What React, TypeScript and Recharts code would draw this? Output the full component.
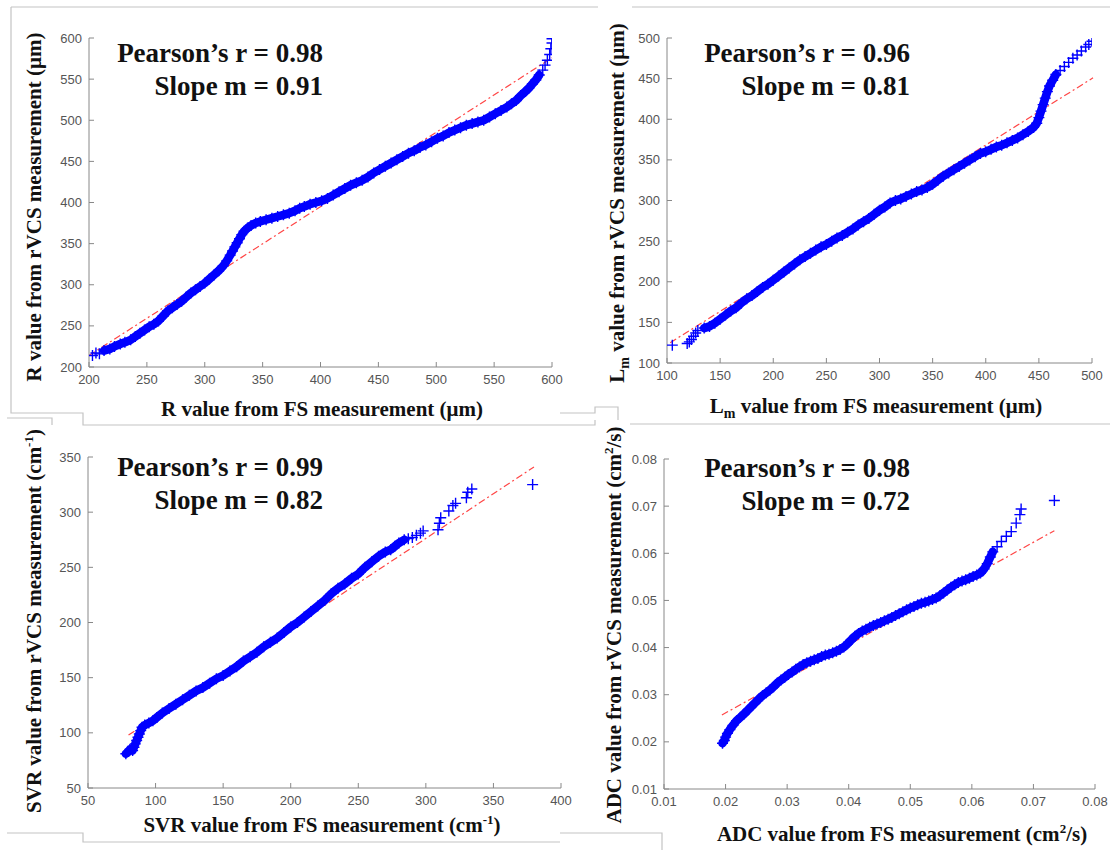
import React from 'react';
import { ScatterChart, Scatter, XAxis, YAxis, ReferenceLine } from 'recharts';

// ---------- Panel 1: R ----------
const rTicks = [200, 250, 300, 350, 400, 450, 500, 550, 600];
const rMarks: [number, number][] = [
  [203, 214], [206, 217], [209, 216],
  [592, 561], [594, 567], [596, 573], [598, 580], [599, 587], [600, 594], [600, 599],
];
const rBand: [number, number][] = [
  [213, 220], [218, 222], [222, 225], [227, 228], [231, 230],
  [236, 233], [240, 237], [244, 241], [248, 245], [252, 249], [256, 252], [260, 256], [264, 262],
  [268, 268], [272, 272], [276, 276], [280, 280], [284, 285], [288, 290], [292, 294], [296, 298],
  [300, 302], [304, 307], [308, 312], [312, 317], [316, 323], [319, 329], [322, 336], [324, 341],
  [326, 346], [328, 351], [330, 356], [332, 361], [334, 365], [337, 369], [340, 372], [344, 375],
  [348, 377], [353, 379], [358, 381], [363, 383], [368, 385], [373, 387], [378, 390], [382, 393],
  [386, 395], [391, 398], [396, 400], [401, 402], [406, 405], [411, 409], [416, 413], [421, 417],
  [426, 421], [431, 424], [436, 427], [441, 431], [446, 436], [451, 440], [456, 444], [461, 448],
  [466, 452], [471, 456], [476, 460], [481, 463], [486, 467], [491, 470], [496, 474], [501, 478],
  [506, 481], [511, 485], [516, 488], [521, 491], [526, 494], [531, 496], [536, 498], [541, 500],
  [546, 504], [551, 508], [556, 512], [561, 516], [565, 520], [569, 524], [573, 530], [577, 535],
  [580, 539], [583, 544], [586, 549], [589, 555],
];
const rFit: [number, number][] = [[200, 214], [600, 576]];

// ---------- Panel 2: Lm ----------
const lmTicks = [100, 150, 200, 250, 300, 350, 400, 450, 500];
const lmMarks: [number, number][] = [
  [105, 122], [119, 124], [121, 126], [123, 129], [125, 133], [127, 137], [129, 140],
  [470, 460], [474, 465], [478, 470], [482, 475], [486, 479], [490, 484], [494, 489], [497, 492],
  [500, 496],
];
const lmBand: [number, number][] = [
  [135, 143], [140, 145], [145, 149], [150, 154], [155, 159], [160, 164], [165, 168], [170, 174],
  [175, 179], [180, 183], [185, 188], [190, 193], [195, 197], [200, 202], [205, 207], [210, 212],
  [215, 217], [220, 222], [225, 227], [230, 231], [235, 235], [240, 239], [245, 243], [250, 246],
  [255, 250], [260, 254], [265, 257], [270, 261], [275, 265], [280, 270], [285, 274], [290, 278],
  [295, 283], [300, 288], [305, 292], [310, 297], [315, 300], [320, 302], [325, 305], [330, 308],
  [335, 311], [340, 313], [345, 316], [350, 320], [355, 325], [360, 330], [365, 334], [370, 338],
  [375, 342], [380, 346], [385, 350], [390, 354], [395, 358], [400, 360], [405, 363], [410, 366],
  [415, 368], [420, 371], [425, 374], [430, 377], [435, 381], [440, 385], [445, 390], [448, 395],
  [450, 402], [452, 410], [454, 418], [456, 426], [458, 434], [460, 441], [463, 448], [466, 455],
];
const lmFit: [number, number][] = [[103, 125], [501, 451]];

// ---------- Panel 3: SVR ----------
const svrXTicks = [50, 100, 150, 200, 250, 300, 350, 400];
const svrYTicks = [50, 100, 150, 200, 250, 300, 350];
const svrBand: [number, number][] = [
  [78, 81], [80, 83], [81, 85], [83, 84], [84, 87], [85, 90], [86, 93], [87, 96], [88, 99],
  [89, 102], [90, 105], [92, 107], [95, 109], [98, 111], [101, 114], [105, 118], [110, 122],
  [115, 126], [120, 130], [125, 134], [130, 138], [135, 141], [140, 145], [145, 149], [150, 152],
  [155, 156], [160, 160], [165, 165], [170, 169], [175, 173], [180, 178], [185, 182], [190, 186],
  [195, 191], [200, 196], [205, 200], [210, 205], [215, 210], [220, 215], [225, 220], [230, 226],
  [235, 231], [240, 235], [245, 240], [250, 244], [255, 250], [260, 255], [265, 260], [270, 264],
  [274, 266], [277, 269], [280, 272], [284, 275],
];
const svrMarks: [number, number][] = [
  [287, 276], [290, 277], [293, 279], [296, 281], [298, 283],
  [309, 284], [310, 290], [311, 295], [317, 301], [320, 306], [322, 308], [330, 313],
  [331, 318], [334, 321], [379, 325],
];
const svrFit: [number, number][] = [[80, 98], [380, 341]];

// ---------- Panel 4: ADC ----------
const adcTicks = [0.01, 0.02, 0.03, 0.04, 0.05, 0.06, 0.07, 0.08];
const adcBand: [number, number][] = [
  [0.0195, 0.0197], [0.0198, 0.0203], [0.02, 0.021], [0.0203, 0.0218], [0.0207, 0.0226],
  [0.0212, 0.0235], [0.0218, 0.0245], [0.0224, 0.0252], [0.023, 0.0259], [0.0236, 0.0267],
  [0.0242, 0.0275], [0.0248, 0.0283], [0.0254, 0.0291], [0.026, 0.0298], [0.0266, 0.0304],
  [0.0272, 0.031], [0.0278, 0.0317], [0.0284, 0.0325], [0.029, 0.0331], [0.0296, 0.0337],
  [0.0302, 0.0343], [0.0308, 0.0348], [0.0314, 0.0354], [0.032, 0.0359], [0.0326, 0.0364],
  [0.0332, 0.0368], [0.0338, 0.0371], [0.0344, 0.0374], [0.035, 0.0377], [0.0356, 0.0381],
  [0.0362, 0.0384], [0.0368, 0.0386], [0.0374, 0.0389], [0.038, 0.0392], [0.0386, 0.0396],
  [0.0392, 0.0401], [0.0398, 0.0408], [0.0404, 0.0416], [0.041, 0.0424], [0.0416, 0.043],
  [0.0422, 0.0435], [0.0428, 0.0439], [0.0434, 0.0443], [0.044, 0.0447], [0.0446, 0.045],
  [0.0452, 0.0453], [0.0458, 0.0457], [0.0464, 0.046], [0.047, 0.0464], [0.0476, 0.0468],
  [0.0482, 0.0472], [0.0488, 0.0476], [0.0494, 0.048], [0.05, 0.0484], [0.0506, 0.0487],
  [0.0512, 0.0491], [0.0518, 0.0494], [0.0524, 0.0496], [0.053, 0.0499], [0.0536, 0.0502],
  [0.0542, 0.0505], [0.0548, 0.051], [0.0554, 0.0516], [0.056, 0.0522], [0.0566, 0.0528],
  [0.0572, 0.0533], [0.0578, 0.0538], [0.0584, 0.0541], [0.059, 0.0544], [0.0596, 0.0547],
  [0.0602, 0.0551], [0.0608, 0.0554], [0.0614, 0.0558], [0.062, 0.0567], [0.0625, 0.0578],
  [0.063, 0.0592], [0.0634, 0.0603],
];
const adcMarks: [number, number][] = [
  [0.0641, 0.0614], [0.0648, 0.0625], [0.0656, 0.0636], [0.0664, 0.0646],
  [0.0672, 0.0664], [0.0678, 0.0682], [0.068, 0.0694], [0.0734, 0.0712],
];
const adcFit: [number, number][] = [[0.0194, 0.0257], [0.0734, 0.0648]];

const SERIF = "'Liberation Serif', 'Times New Roman', serif";
const SANS = "'Liberation Sans', Arial, sans-serif";
const BLUE = '#0000ff';

const PlusShape = (props: any) => {
  const { cx, cy } = props;
  if (cx == null || cy == null || isNaN(cx) || isNaN(cy)) return null;
  const s = 5.5;
  return (
    <path
      d={`M${cx - s},${cy}H${cx + s}M${cx},${cy - s}V${cy + s}`}
      stroke={BLUE}
      strokeWidth={1.4}
      fill="none"
    />
  );
};

type PanelProps = {
  plotLeft: number;
  plotTop: number;
  plotW: number;
  plotH: number;
  xDomain: [number, number];
  yDomain: [number, number];
  xTicks: number[];
  yTicks: number[];
  band: [number, number][];
  marks: [number, number][];
  fit: [number, number][];
  fmt?: (v: number) => string;
};

function Panel(p: PanelProps) {
  const ML = 70;
  const MT = 10;
  const MR = 24;
  const XH = 40;
  const width = ML + p.plotW + MR;
  const height = MT + p.plotH + XH;
  const bandData = p.band.map(([x, y]) => ({ x, y }));
  const markData = p.marks.map(([x, y]) => ({ x, y }));
  const tickStyle = { fill: '#555', fontSize: 13, fontFamily: SANS };
  return (
    <div style={{ position: 'absolute', left: p.plotLeft - ML, top: p.plotTop - MT, width, height }}>
      <ScatterChart width={width} height={height} margin={{ top: MT, right: MR, bottom: 0, left: 0 }}>
        <XAxis
          type="number"
          dataKey="x"
          domain={p.xDomain}
          ticks={p.xTicks}
          interval={0}
          allowDataOverflow
          height={XH}
          tickSize={-5}
          tickMargin={13}
          stroke="#888"
          tick={tickStyle}
          tickFormatter={p.fmt}
        />
        <YAxis
          type="number"
          dataKey="y"
          domain={p.yDomain}
          ticks={p.yTicks}
          interval={0}
          allowDataOverflow
          width={ML}
          tickSize={-5}
          tickMargin={12}
          stroke="#888"
          tick={tickStyle}
          tickFormatter={p.fmt}
        />
        <Scatter
          data={bandData}
          shape={PlusShape}
          line={{ stroke: BLUE, strokeWidth: 8.5, strokeLinejoin: 'round', strokeLinecap: 'round' }}
          lineType="joint"
          isAnimationActive={false}
        />
        <Scatter data={markData} shape={PlusShape} isAnimationActive={false} />
        <ReferenceLine
          segment={[{ x: p.fit[0][0], y: p.fit[0][1] }, { x: p.fit[1][0], y: p.fit[1][1] }]}
          stroke="#ff4545"
          strokeWidth={1.2}
          strokeDasharray="7 3 2 3"
          ifOverflow="visible"
        />
      </ScatterChart>
    </div>
  );
}

const fmt2 = (v: number) => v.toFixed(2);

function Annot({ right, y1, r, m }: { right: number; y1: number; r: string; m: string }) {
  return (
    <g fontFamily={SERIF} fontWeight="bold" fontSize={27} fill="#111" textAnchor="end">
      <text x={right} y={y1}>{`Pearson\u2019s r = ${r}`}</text>
      <text x={right} y={y1 + 33}>{`Slope m = ${m}`}</text>
    </g>
  );
}

export default function App() {
  return (
    <div
      style={{
        position: 'absolute',
        left: 0,
        top: 0,
        width: 1110,
        height: 850,
        background: '#fff',
        overflow: 'hidden',
      }}
    >
      <Panel plotLeft={89} plotTop={38} plotW={463} plotH={329} xDomain={[200, 600]} yDomain={[200, 600]}
        xTicks={rTicks} yTicks={rTicks} band={rBand} marks={rMarks} fit={rFit} />
      <Panel plotLeft={667} plotTop={38} plotW={425} plotH={325} xDomain={[100, 500]} yDomain={[100, 500]}
        xTicks={lmTicks} yTicks={lmTicks} band={lmBand} marks={lmMarks} fit={lmFit} />
      <Panel plotLeft={88} plotTop={457} plotW={473} plotH={331} xDomain={[50, 400]} yDomain={[50, 350]}
        xTicks={svrXTicks} yTicks={svrYTicks} band={svrBand} marks={svrMarks} fit={svrFit} />
      <Panel plotLeft={664} plotTop={459} plotW={431} plotH={330} xDomain={[0.01, 0.08]} yDomain={[0.01, 0.08]}
        xTicks={adcTicks} yTicks={adcTicks} band={adcBand} marks={adcMarks} fit={adcFit} fmt={fmt2} />

      <svg width={1110} height={850} style={{ position: 'absolute', left: 0, top: 0, pointerEvents: 'none' }}>
        <g stroke="#c4c4c4" strokeWidth={1.2} fill="none">
          <path d="M11,7H598M11,7V413H83V425H560" />
          <path d="M7,418H52V425" />
          <path d="M632,7H1110" />
          <path d="M560,413H595V407H618V420" />
          <path d="M560,425H595V420" />
          <path d="M630,424H1110" />
          <path d="M7,833H83V842H560" />
          <path d="M560,833H662V850" />
        </g>

        <Annot right={323} y1={62} r="0.98" m="0.91" />
        <Annot right={910} y1={62} r="0.96" m="0.81" />
        <Annot right={323} y1={476} r="0.99" m="0.82" />
        <Annot right={910} y1={477} r="0.98" m="0.72" />

        <g fontFamily={SERIF} fontWeight="bold" fontSize={21} fill="#111" textAnchor="middle">
          <text x={322} y={416}>R value from FS measurement (μm)</text>
          <text transform="translate(41,207) rotate(-90)">R value from rVCS measurement (μm)</text>
          <text x={876} y={413}>
            L<tspan fontSize={14} dy={5}>m</tspan>
            <tspan dy={-5}> value from FS measurement (μm)</tspan>
          </text>
          <text transform="translate(624,203) rotate(-90)">
            L<tspan fontSize={14} dy={5}>m</tspan>
            <tspan dy={-5}> value from rVCS measurement (μm)</tspan>
          </text>
          <text x={322} y={832}>
            SVR value from FS measurement (cm<tspan fontSize={13} dy={-8}>-1</tspan>
            <tspan dy={8}>)</tspan>
          </text>
          <text transform="translate(41,621) rotate(-90)">
            SVR value from rVCS measurement (cm<tspan fontSize={13} dy={-8}>-1</tspan>
            <tspan dy={8}>)</tspan>
          </text>
          <text x={902} y={841}>
            ADC value from FS measurement (cm<tspan fontSize={13} dy={-8}>2</tspan>
            <tspan dy={8}>/s)</tspan>
          </text>
          <text transform="translate(621,625) rotate(-90)">
            ADC value from rVCS measurement (cm<tspan fontSize={13} dy={-8}>2</tspan>
            <tspan dy={8}>/s)</tspan>
          </text>
        </g>
      </svg>
    </div>
  );
}
